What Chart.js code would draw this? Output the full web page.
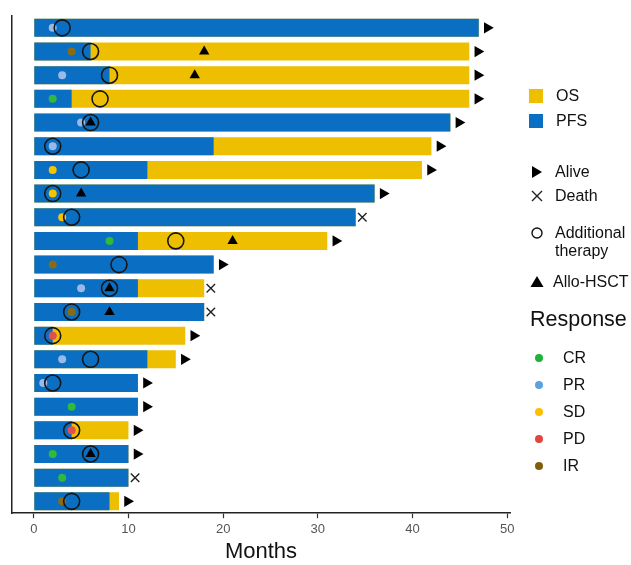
<!DOCTYPE html>
<html>
<head>
<meta charset="utf-8">
<script src="https://cdn.jsdelivr.net/npm/chart.js@4"></script>
<style>
  html, body { margin: 0; padding: 0; background: #fff; }
  #wrap { position: relative; width: 631px; height: 565px; font-family: "Liberation Sans", Arial, sans-serif; }
  #chart { position: absolute; left: 0; top: 0; }
  .lg { position: absolute; font-size: 16px; color: #111; line-height: 18px; white-space: nowrap; }
  .ic { position: absolute; }
</style>
</head>
<body>
<div id="wrap">
  <canvas id="chart" width="631" height="565"></canvas>
  <div id="legend"></div>
</div>
<script>
// one row per patient, top to bottom
const rows = ['1','2','3','4','5','6','7','8','9','10','11','12','13','14','15','16','17','18','19','20','21'];
const pfs = [47, 6, 8, 4, 44, 19, 12, 36, 34, 11, 19, 11, 18, 2, 12, 11, 11, 4, 10, 10, 8];
const os  = [47, 46, 46, 46, 44, 42, 41, 36, 34, 31, 19, 18, 18, 16, 15, 11, 11, 10, 10, 10, 9];
const status = ['alive','alive','alive','alive','alive','alive','alive','alive','death','alive','alive',
                'death','death','alive','alive','alive','alive','alive','alive','death','alive'];
const responseMonth = [2, 4, 3, 2, 5, 2, 2, 2, 3, 8, 2, 5, 4, 2, 3, 1, 4, 4, 2, 3, 3];
const responseType = ['PR','IR','PR','CR','PR','PR','SD','SD','SD','CR','IR','PR','IR','PD','PR','PR','CR','PD','CR','CR','IR'];
const therapyMonth = [3, 6, 8, 7, 6, 2, 5, 2, 4, 15, 9, 8, 4, 2, 6, 2, null, 4, 6, null, 4];
const hsctMonth = [null, 18, 17, null, 6, null, null, 5, null, 21, null, 8, 8, null, null, null, null, null, 6, null, null];
const xTicks = [0, 10, 20, 30, 40, 50];

const BLUE = '#0a6fc2';
const YELLOW = '#eebf00';
const dotColors = { CR: '#2fba3c', PR: '#9ab8e8', SD: '#f7c200', PD: '#e2504d', IR: '#8c6a12' };
const legendDotColors = { CR: '#1db33a', PR: '#5ba3e0', SD: '#ffbf00', PD: '#e2443f', IR: '#7f5f0a' };

const endGap = { alive: 0.9, death: 0.7 };

const alivePts = [], deathPts = [];
os.forEach((v, i) => {
  const p = { x: v + endGap[status[i]], y: rows[i] };
  (status[i] === 'alive' ? alivePts : deathPts).push(p);
});
const respPts = responseMonth.map((m, i) => ({ x: m, y: rows[i] }));
const therapyPts = therapyMonth.map((m, i) => m == null ? null : { x: m, y: rows[i] }).filter(Boolean);
const hsctPts = hsctMonth.map((m, i) => m == null ? null : { x: m, y: rows[i] }).filter(Boolean);

new Chart(document.getElementById('chart'), {
  type: 'bar',
  data: {
    labels: rows,
    datasets: [
      { label: 'OS', data: os, backgroundColor: YELLOW, grouped: false, order: 3,
        categoryPercentage: 1, barPercentage: 0.76 },
      { label: 'PFS', data: pfs, backgroundColor: BLUE, grouped: false, order: 2,
        categoryPercentage: 1, barPercentage: 0.76 },
      { type: 'scatter', label: 'Response', data: respPts, order: 1,
        pointBackgroundColor: responseType.map(t => dotColors[t]), pointBorderWidth: 0,
        pointRadius: 4 },
      { type: 'scatter', label: 'Additional therapy', data: therapyPts, order: 0,
        pointStyle: 'circle', pointRadius: 8, pointBackgroundColor: 'rgba(0,0,0,0)',
        pointBorderColor: '#151515', pointBorderWidth: 1.6 },
      { type: 'scatter', label: 'Allo-HSCT', data: hsctPts, order: 0,
        pointStyle: 'triangle', pointRadius: 6, pointBackgroundColor: '#000', pointBorderColor: '#000', pointBorderWidth: 0 },
      { type: 'scatter', label: 'Alive', data: alivePts, order: 0,
        pointStyle: 'triangle', rotation: 90, pointRadius: 6.5, pointBackgroundColor: '#000', pointBorderColor: '#000', pointBorderWidth: 0 },
      { type: 'scatter', label: 'Death', data: deathPts, order: 0,
        pointStyle: 'crossRot', pointRadius: 6, pointBorderColor: '#222', pointBorderWidth: 1.4 }
    ]
  },
  options: {
    indexAxis: 'y',
    responsive: false,
    animation: false,
    layout: { padding: { left: 12, right: 121, top: 16, bottom: 1 } },
    plugins: { legend: { display: false }, tooltip: { enabled: false } },
    scales: {
      x: {
        type: 'linear',
        min: -2.3,
        max: 50.3,
        afterBuildTicks: s => { s.ticks = xTicks.map(v => ({ value: v })); },
        grid: { drawOnChartArea: false, drawTicks: true, tickLength: 5, tickColor: '#333', tickWidth: 1.2 },
        border: { color: '#222', width: 1.5 },
        ticks: { color: '#555', font: { family: 'Liberation Sans', size: 13 }, padding: 3 },
        title: { display: true, text: 'Months', color: '#111',
                 font: { family: 'Liberation Sans', size: 22, lineHeight: 1.1 }, padding: { top: 0, bottom: 0 } }
      },
      y: {
        type: 'category',
        offset: true,
        grid: { display: false },
        border: { color: '#222', width: 1.5 },
        ticks: { display: false },
        afterFit: s => { s.width = 0; }
      }
    }
  }
});

// legend on the right
const legend = document.getElementById('legend');
function add(html) { legend.insertAdjacentHTML('beforeend', html); }
function text(t, x, y, size) {
  const s = size || 16;
  add(`<div class="lg" style="left:${x}px;top:${y - (s + 4) / 2}px;font-size:${s}px;line-height:${s + 4}px">${t}</div>`);
}
function svgIcon(inner, cx, cy) {
  add(`<svg class="ic" width="16" height="16" style="left:${cx - 8}px;top:${cy - 8}px">${inner}</svg>`);
}

add(`<div class="ic" style="left:529px;top:89px;width:14px;height:14px;background:${YELLOW}"></div>`);
text('OS', 556, 96);
add(`<div class="ic" style="left:529px;top:114px;width:14px;height:14px;background:${BLUE}"></div>`);
text('PFS', 556, 121);

svgIcon('<polygon points="3,2 13,8 3,14" fill="#000"/>', 537, 172);
text('Alive', 555, 172);
svgIcon('<path d="M3,3 L13,13 M13,3 L3,13" stroke="#222" stroke-width="1.4"/>', 537, 196);
text('Death', 555, 196);
svgIcon('<circle cx="8" cy="8" r="5" fill="none" stroke="#111" stroke-width="1.4"/>', 537, 233);
text('Additional', 555, 233);
text('therapy', 555, 251);
svgIcon('<polygon points="8,2 14.5,13 1.5,13" fill="#000"/>', 537, 282);
text('Allo-HSCT', 553, 282);

text('Response', 530, 320, 21.5);
const respOrder = ['CR', 'PR', 'SD', 'PD', 'IR'];
respOrder.forEach((r, k) => {
  const y = 358 + k * 27;
  svgIcon(`<circle cx="8" cy="8" r="4" fill="${legendDotColors[r]}"/>`, 539, y);
  text(r, 563, y);
});
</script>
</body>
</html>
